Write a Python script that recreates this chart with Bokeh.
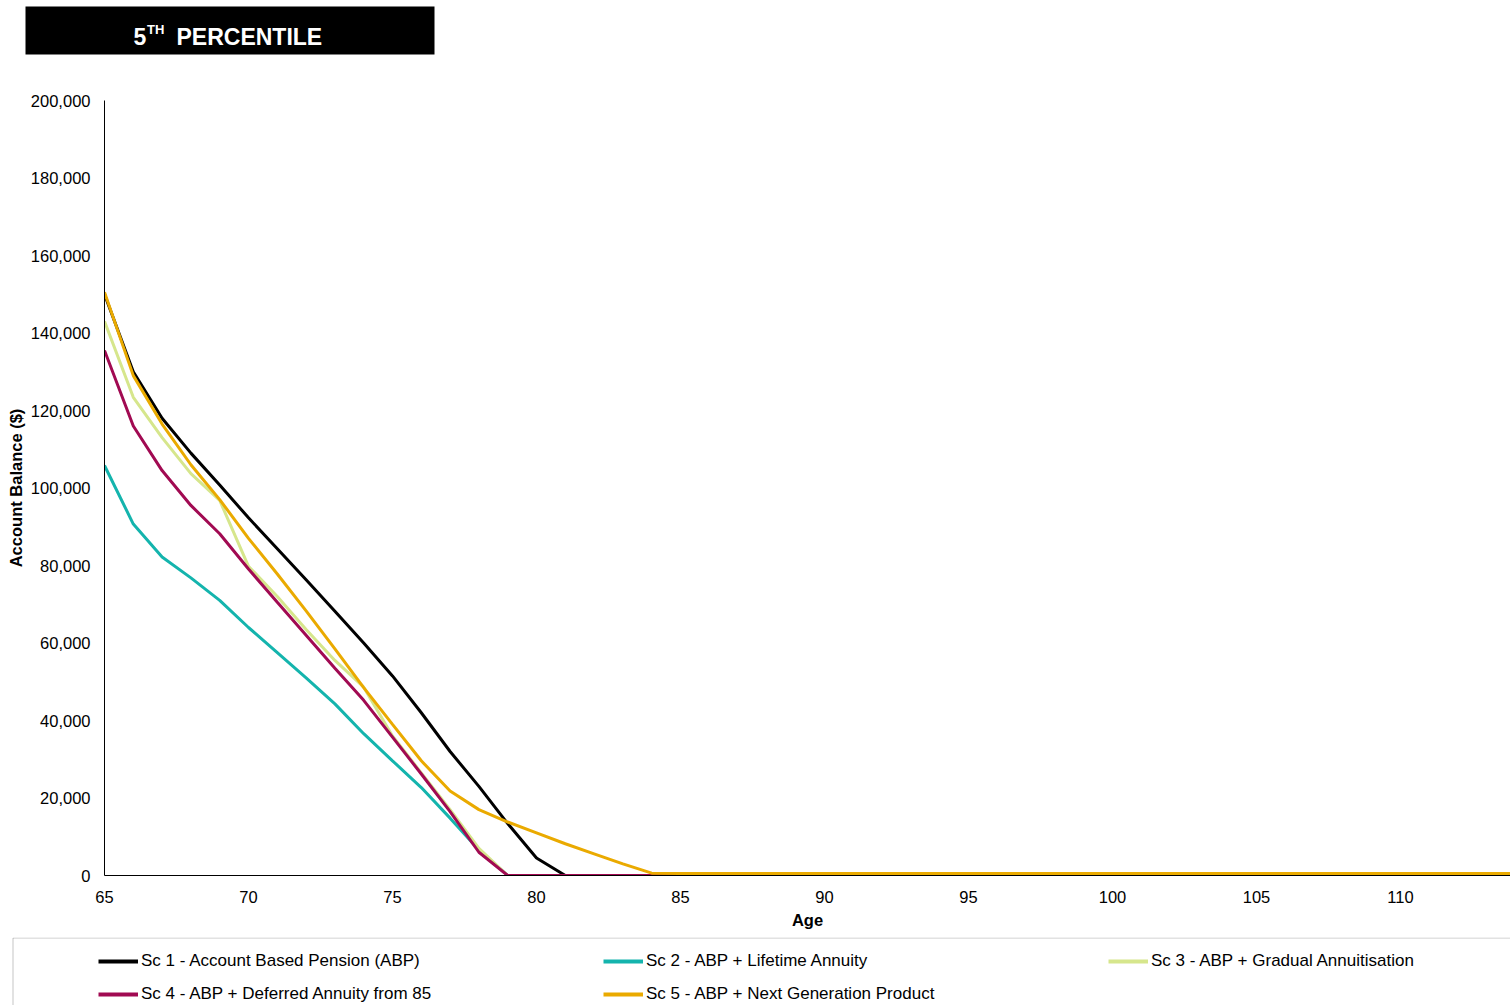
import numpy as np
from bokeh.plotting import figure
from bokeh.layouts import column
from bokeh.models import (Range1d, FixedTicker, NumeralTickFormatter, Legend, LegendItem,
                          Label, BoxAnnotation)
from bokeh.embed import file_html
from bokeh.resources import INLINE

# ---------------- data ----------------
ages = list(range(65, 115))
sc1 = [150000, 130000, 118000, 109000, 100800, 92300, 84300, 76300, 68200, 60000,
       51500, 42000, 32000, 23000, 13400, 4500] + [0] * 34
sc2 = [105800, 90700, 82200, 76800, 71000, 64000, 57500, 51000, 44300, 36600,
       29600, 22700, 14800, 6600] + [0] * 36
sc3 = [143000, 123400, 113000, 103700, 96800, 79800, 72000, 63500, 55500, 48600,
       36000, 26500, 17000, 7000] + [0] * 36
sc4 = [135500, 116000, 104500, 95500, 88200, 79100, 70500, 62000, 53500, 45200,
       35700, 26200, 16500, 6000] + [0] * 36
sc5 = [150500, 129000, 116500, 106000, 97000, 87000, 77800, 68300, 58500, 48500,
       39000, 29600, 21800, 17000, 13800, 11000, 8200, 5600, 3000, 600] + [500] * 30

names = ["Sc 1 - Account Based Pension (ABP)",
         "Sc 2 - ABP + Lifetime Annuity",
         "Sc 3 - ABP + Gradual Annuitisation",
         "Sc 4 - ABP + Deferred Annuity from 85",
         "Sc 5 - ABP + Next Generation Product"]
colors = ["#000000", "#14B4AD", "#D6E68C", "#A10A52", "#EAAA00"]
series = [sc1, sc2, sc3, sc4, sc5]
x_ticks = list(range(65, 115, 5))
y_ticks = list(range(0, 200001, 20000))
title_main = "PERCENTILE"

FONT = "Liberation Sans"
PAGE_W = 1510


def blank_fig(h):
    f = figure(width=PAGE_W, height=h, output_backend="svg", toolbar_location=None,
               x_axis_location=None, y_axis_location=None,
               x_range=Range1d(0, 1), y_range=Range1d(0, 1),
               min_border=0, min_border_left=0, min_border_right=0,
               min_border_top=0, min_border_bottom=0)
    f.outline_line_color = None
    f.grid.visible = False
    f.frame_align = False
    return f


# ---------------- title strip ----------------
TH = 60
t = blank_fig(TH)
t.add_layout(BoxAnnotation(left=25, right=434, bottom=TH - 54, top=TH - 6,
                           left_units="screen", right_units="screen",
                           top_units="screen", bottom_units="screen",
                           fill_color="black", fill_alpha=1, line_color=None))
t.add_layout(Label(x=133, y=TH - 36, x_units="screen", y_units="screen", text="5",
                   text_color="white", text_font=FONT, text_font_size="23px",
                   text_font_style="bold", text_baseline="alphabetic"))
t.add_layout(Label(x=146.5, y=TH - 28.5, x_units="screen", y_units="screen", text="TH",
                   text_color="white", text_font=FONT, text_font_size="13px",
                   text_font_style="bold", text_baseline="alphabetic"))
t.add_layout(Label(x=176, y=TH - 36, x_units="screen", y_units="screen", text=title_main,
                   text_color="white", text_font=FONT, text_font_size="23px",
                   text_font_style="bold", text_baseline="alphabetic"))

# ---------------- main chart ----------------
MH = 877
ML, MR, MT, MB = 104, 0, 40, 62
frame_w = PAGE_W - ML - MR
px_per_year = 28.8

p = figure(width=PAGE_W, height=MH, output_backend="svg", toolbar_location=None,
           x_range=Range1d(65, 65 + frame_w / px_per_year), y_range=Range1d(0, 200000),
           min_border_left=ML, min_border_right=MR, min_border_top=MT, min_border_bottom=MB)
p.outline_line_color = None
p.grid.visible = False
p.frame_align = False

for ax in (p.xaxis[0], p.yaxis[0]):
    ax.major_tick_line_color = None
    ax.minor_tick_line_color = None
    ax.major_tick_out = 0
    ax.major_tick_in = 0
    ax.minor_tick_out = 0
    ax.minor_tick_in = 0
    ax.axis_line_color = "black"
    ax.axis_line_width = 1
    ax.major_label_text_font = FONT
    ax.major_label_text_font_size = "16.5px"
    ax.major_label_text_color = "black"
    ax.axis_label_text_font = FONT
    ax.axis_label_text_font_size = "16.5px"
    ax.axis_label_text_font_style = "bold"
    ax.axis_label_text_color = "black"

p.xaxis.ticker = FixedTicker(ticks=x_ticks)
p.xaxis.major_label_standoff = 15
p.xaxis.axis_label = "Age"
p.xaxis.axis_label_standoff = 5

p.yaxis.ticker = FixedTicker(ticks=y_ticks)
p.yaxis.formatter = NumeralTickFormatter(format="0,0")
p.yaxis.major_label_standoff = 14
p.yaxis.axis_label = "Account Balance ($)"
p.yaxis.axis_label_standoff = 3

for s, c in zip(series, colors):
    p.line(ages, s, line_color=c, line_width=3)

# ---------------- legend strip ----------------
LH = 68
lg = blank_fig(LH)
lg.add_layout(BoxAnnotation(left=12.5, right=1530, top=LH - 0.5, bottom=-20,
                            left_units="screen", right_units="screen",
                            top_units="screen", bottom_units="screen",
                            fill_alpha=0, line_color="#404040", line_width=1))
nan_pt = np.array([np.nan])
dummy = [lg.line(nan_pt, nan_pt, line_color=c, line_width=4) for c in colors]
legend = Legend(items=[LegendItem(label=n, renderers=[r]) for n, r in zip(names, dummy)],
                location=(98, 1), orientation="horizontal", ncols=3,
                glyph_width=40, glyph_height=18, label_height=18, label_width=449,
                label_standoff=3, spacing=13, padding=0, margin=0,
                border_line_color=None, background_fill_alpha=0,
                label_text_font=FONT, label_text_font_size="17px", label_text_color="black")
lg.add_layout(legend, "center")

layout = column(t, p, lg, spacing=0)
open("out.html", "w").write(file_html(layout, INLINE))
